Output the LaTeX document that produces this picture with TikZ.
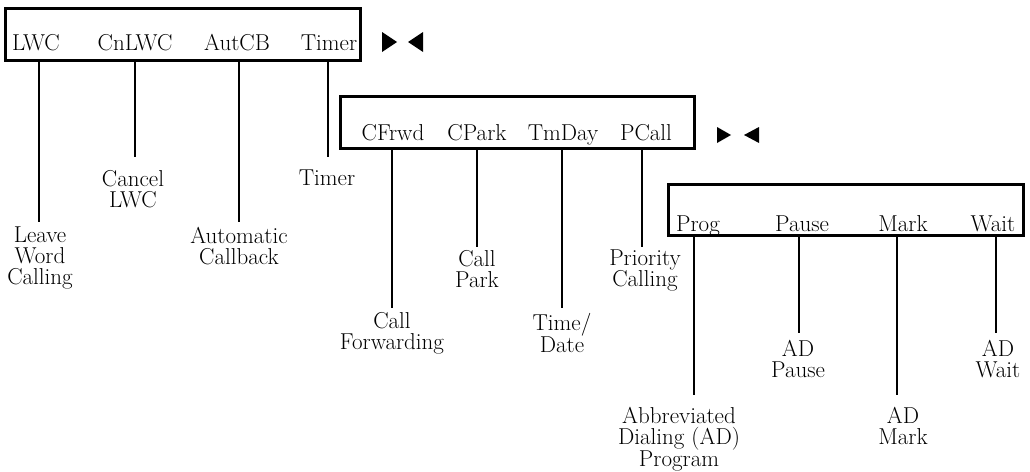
\documentclass[tikz,border=0pt]{standalone}
\begin{document}
\begin{tikzpicture}[x=1pt,y=-1pt,
  txt/.style={font=\fontsize{23}{21}\selectfont, inner sep=0pt},
  panel/.style={draw, line width=3pt, inner sep=0pt},
  lab/.style={txt, anchor=base},
  desc/.style={txt, anchor=north, align=center},
  conn/.style={line width=2pt},
  tri/.style={fill=black}]
\useasboundingbox (0,0) rectangle (1030,471);

% panels
\node[panel, minimum width=355pt, minimum height=52pt] (b1) at (183,34.5) {};
\node[panel, minimum width=354pt, minimum height=52pt] (b2) at (517.5,122.5) {};
\node[panel, minimum width=355pt, minimum height=51pt] (b3) at (846,210) {};

% panel labels
\node[lab] (l11) at (36,50) {LWC};
\node[lab] (l12) at (135,50) {CnLWC};
\node[lab] (l13) at (237,50) {AutCB};
\node[lab] (l14) at (329,50) {Timer};

\node[lab] (l21) at (393,140) {CFrwd};
\node[lab] (l22) at (477,140) {CPark};
\node[lab] (l23) at (563,140) {TmDay};
\node[lab] (l24) at (646,140) {PCall};

\node[lab] (l31) at (698,231) {Prog};
\node[lab] (l32) at (802,231) {Pause};
\node[lab] (l33) at (903,231) {Mark};
\node[lab] (l34) at (993,231) {Wait};

% descriptions
\node[desc] (d11) at (40,227) {Leave\\Word\\Calling};
\node[desc] (d12) at (133,170) {Cancel\\LWC};
\node[desc] (d13) at (239,227) {Automatic\\Callback};
\node[desc] (d14) at (327,170) {Timer};

\node[desc] (d21) at (392,312) {Call\\Forwarding};
\node[desc] (d22) at (477,250) {Call\\Park};
\node[desc] (d23) at (562,313) {Time/\\Date};
\node[desc] (d24) at (645,250) {Priority\\Calling};

\node[desc] (d31) at (679,407) {Abbreviated\\Dialing (AD)\\Program};
\node[desc] (d32) at (798,340) {AD\\Pause};
\node[desc] (d33) at (903,407) {AD\\Mark};
\node[desc] (d34) at (998,340) {AD\\Wait};

% connector end points
\coordinate (e11) at (39,222);
\coordinate (e12) at (135,157);
\coordinate (e13) at (239,222);
\coordinate (e14) at (328,157);
\coordinate (e21) at (392,308);
\coordinate (e22) at (477,247);
\coordinate (e23) at (562,308);
\coordinate (e24) at (642,247);
\coordinate (e31) at (694,395);
\coordinate (e32) at (799,333);
\coordinate (e33) at (897,395);
\coordinate (e34) at (996,333);

\foreach \i in {11,12,13,14} \draw[conn] (e\i |- b1.south) -- (e\i);
\foreach \i in {21,22,23,24} \draw[conn] (e\i |- b2.south) -- (e\i);
\foreach \i in {31,32,33,34} \draw[conn] (e\i |- b3.south) -- (e\i);

% bow-tie markers
\fill[tri] (382,32) -- (397,42) -- (382,52) -- cycle;
\fill[tri] (423,32) -- (408,42) -- (423,52) -- cycle;
\fill[tri] (717,127) -- (731,135) -- (717,143) -- cycle;
\fill[tri] (759,127) -- (744,135) -- (759,143) -- cycle;
\end{tikzpicture}
\end{document}
